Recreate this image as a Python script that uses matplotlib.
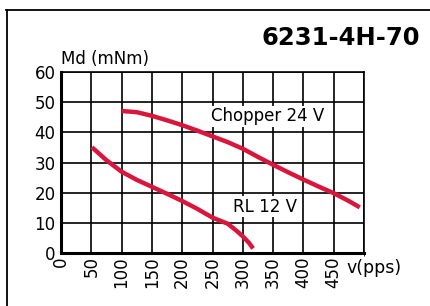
import matplotlib
matplotlib.use("Agg")
import matplotlib.pyplot as plt
from matplotlib.lines import Line2D

# torque curves
chopper_v = [100, 125, 150, 175, 200, 225, 250, 275, 300, 325, 350, 375, 400, 425, 450, 475, 493]
chopper_md = [47.1, 46.7, 45.5, 44.0, 42.4, 40.6, 38.7, 36.8, 34.6, 31.9, 29.3, 26.8, 24.4, 22.1, 19.9, 17.3, 15.2]
rl_v = [51, 75, 100, 125, 150, 175, 200, 225, 250, 275, 290, 300, 310, 317]
rl_md = [35.1, 30.8, 27.0, 24.3, 22.0, 19.7, 17.3, 14.7, 11.8, 9.8, 7.4, 5.6, 3.5, 1.6]

x_ticks = [0, 50, 100, 150, 200, 250, 300, 350, 400, 450]
y_ticks = [0, 10, 20, 30, 40, 50, 60]
red = "#d9173c"

plt.rcParams["font.family"] = ["DejaVu Sans"]

fig = plt.figure(figsize=(4.3, 3.06), dpi=100)
ax = fig.add_axes([61 / 430, 1 - 253.3 / 306, 303 / 430, 181.3 / 306])

ax.plot(chopper_v, chopper_md, color=red, linewidth=3.2, solid_capstyle="butt")
ax.plot(rl_v, rl_md, color=red, linewidth=3.2, solid_capstyle="butt")

ax.set_xlim(0, 500)
ax.set_ylim(0, 60)
ax.set_xticks(x_ticks)
ax.set_yticks(y_ticks)
ax.set_xticks([500], minor=True)
ax.set_xticklabels([str(v) for v in x_ticks], rotation=90, fontsize=12)
ax.set_yticklabels([str(v) for v in y_ticks], fontsize=12)
ax.tick_params(axis="x", length=0, pad=2)
ax.tick_params(axis="y", length=0, pad=4)
ax.grid(True, which="both", color="black", linewidth=1.2)
for side in ["top", "right"]:
    ax.spines[side].set_linewidth(1.2)
for side in ["left", "bottom"]:
    ax.spines[side].set_linewidth(2.2)

ax.text(341, 45.3, "Chopper 24 V", fontsize=12, ha="center", va="center",
        bbox=dict(facecolor="white", edgecolor="none", pad=1.0))
ax.text(336, 15.4, "RL 12 V", fontsize=12, ha="center", va="center",
        bbox=dict(facecolor="white", edgecolor="none", pad=1.0))

fig.text(61 / 430, 1 - 64 / 306, "Md (mNm)", fontsize=12, ha="left", va="baseline")
fig.text(346 / 430, 1 - 268 / 306, "v(pps)", fontsize=12.5, ha="left", va="center")
fig.text(420 / 430, 1 - 45 / 306, "6231-4H-70", fontsize=17.5, fontweight="bold",
         ha="right", va="baseline")

# outer frame, only left and top edges are visible
fig.add_artist(Line2D([6.5 / 430, 6.5 / 430], [0, 1 - 9.5 / 306], color="black", linewidth=1.3))
fig.add_artist(Line2D([6 / 430, 1], [1 - 9.5 / 306, 1 - 9.5 / 306], color="black", linewidth=1.3))

fig.savefig("out.png", dpi=100)
